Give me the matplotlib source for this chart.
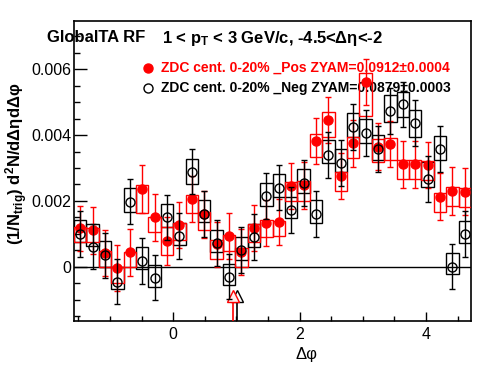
import numpy as np
import matplotlib
matplotlib.use("Agg")
import matplotlib.pyplot as plt

plt.rcParams["font.family"] = ["Liberation Sans", "DejaVu Sans"]
plt.rcParams["mathtext.fontset"] = "custom"
plt.rcParams["mathtext.rm"] = "Liberation Sans:bold"
plt.rcParams["mathtext.it"] = "Liberation Sans:bold"
plt.rcParams["mathtext.bf"] = "Liberation Sans:bold"

# valores en unidades de 1e-3
pos_val = [1.17, 1.11, 0.41, -0.03, 0.44, 2.35, 1.50, 0.78, 1.27, 2.06, 1.59, 0.68, 0.93, 0.44, 1.17, 1.32,
           1.35, 2.45, 2.48, 3.82, 4.46, 2.76, 3.75, 5.62, 3.65, 3.73, 3.11, 3.11, 3.08, 2.13, 2.30, 2.28]
pos_err = [0.68, 0.71, 0.70, 0.70, 0.71, 0.73, 0.71, 0.72, 0.71, 0.70, 0.71, 0.69, 0.71, 0.70, 0.70, 0.70,
           0.70, 0.69, 0.71, 0.71, 0.71, 0.71, 0.71, 0.70, 0.71, 0.70, 0.72, 0.72, 0.70, 0.71, 0.72, 0.71]
pos_sys_lo = [0.74, 0.74, 0.00, -0.48, 0.00, 1.62, 1.06, 0.35, 0.81, 1.64, 1.13, 0.25, 0.49, 0.00, 0.74, 0.89,
              0.93, 2.01, 2.00, 3.34, 3.93, 2.31, 3.29, 4.58, 3.19, 3.25, 2.66, 2.66, 2.63, 1.65, 1.85, 1.83]
pos_sys_hi = [1.22, 1.17, 0.49, 0.00, 0.46, 2.48, 1.52, 1.22, 1.34, 2.17, 1.66, 0.81, 0.96, 0.56, 1.29, 1.42,
              1.40, 2.58, 2.60, 4.02, 4.71, 2.89, 3.95, 5.88, 3.88, 3.90, 3.24, 3.24, 3.22, 2.23, 2.41, 2.38]

neg_val = [0.99, 0.61, 0.35, -0.46, 1.98, 0.17, -0.33, 1.50, 0.93, 2.89, 1.60, 0.71, -0.30, 0.51, 0.89, 2.15,
           2.40, 1.72, 2.55, 1.60, 3.41, 3.14, 4.26, 4.07, 3.57, 4.73, 4.94, 4.36, 2.68, 3.57, 0.00, 0.99]
neg_err = [0.69, 0.69, 0.69, 0.68, 0.69, 0.69, 0.68, 0.68, 0.71, 0.69, 0.70, 0.70, 0.69, 0.70, 0.70, 0.70,
           0.68, 0.69, 0.70, 0.69, 0.70, 0.70, 0.70, 0.70, 0.70, 0.69, 0.69, 0.70, 0.70, 0.70, 0.69, 0.69]
neg_sys_lo = [0.75, 0.63, 0.00, -0.69, 1.67, -0.08, -0.61, 1.22, 0.66, 2.53, 1.37, 0.46, -0.56, 0.20, 0.61, 1.86,
              2.13, 1.47, 2.25, 1.34, 3.14, 2.89, 3.95, 3.75, 3.24, 4.41, 4.56, 3.95, 2.43, 3.24, -0.22, 0.71]
neg_sys_hi = [1.42, 1.30, 0.78, 0.00, 2.38, 0.61, 0.05, 1.90, 1.34, 3.29, 2.03, 1.11, 0.07, 0.89, 1.29, 2.56,
              2.81, 2.13, 2.96, 2.03, 3.85, 3.57, 4.68, 4.48, 4.00, 5.22, 5.30, 4.76, 3.19, 3.97, 0.43, 1.40]

# posicion del minimo ZYAM (flechas)
zyam_x = [0.948, 1.011]
zyam_y = -0.89

nbins = 32
bordes = np.linspace(-np.pi / 2, 3 * np.pi / 2, nbins + 1)
centros = 0.5 * (bordes[:-1] + bordes[1:])
ancho = bordes[1] - bordes[0]

esc = 1e-3
pos_val = np.array(pos_val) * esc
pos_err = np.array(pos_err) * esc
pos_sys_lo = np.array(pos_sys_lo) * esc
pos_sys_hi = np.array(pos_sys_hi) * esc
neg_val = np.array(neg_val) * esc
neg_err = np.array(neg_err) * esc
neg_sys_lo = np.array(neg_sys_lo) * esc
neg_sys_hi = np.array(neg_sys_hi) * esc

fig = plt.figure(figsize=(4.96, 3.74), dpi=100)
ax = fig.add_axes([74 / 496, 53 / 374, 397 / 496, 300 / 374])

ymin, ymax = -0.00165, 0.00747
ax.set_xlim(-np.pi / 2, 3 * np.pi / 2)
ax.set_ylim(ymin, ymax)

ax.axhline(0, color="black", lw=1.0, zorder=1)

# flechas ZYAM
ax.plot([zyam_x[1], zyam_x[1]], [ymin, zyam_y * esc - 0.00018], color="black", lw=1.2, zorder=2)
ax.plot([zyam_x[1]], [zyam_y * esc], marker="^", ms=8, mfc="white", mec="black", mew=1, zorder=2)
ax.plot([zyam_x[0], zyam_x[0]], [ymin, zyam_y * esc - 0.00018], color="red", lw=1.2, zorder=3)
ax.plot([zyam_x[0]], [zyam_y * esc], marker="^", ms=8, mfc="#ffeeee", mec="red", mew=1, zorder=3)

# cajas sistematicas
ax.bar(centros, neg_sys_hi - neg_sys_lo, bottom=neg_sys_lo, width=ancho, fill=False,
       edgecolor="black", linewidth=1.0, zorder=3)
ax.bar(centros, pos_sys_hi - pos_sys_lo, bottom=pos_sys_lo, width=ancho, fill=False,
       edgecolor="red", linewidth=1.0, zorder=4)

# puntos
ax.errorbar(centros, pos_val, yerr=pos_err, fmt="o", ms=6.5, color="red", ecolor="red",
            elinewidth=1.0, capsize=2, capthick=1.0, zorder=5)
ax.errorbar(centros, neg_val, yerr=neg_err, fmt="o", ms=6.5, mfc="none", mec="black", mew=1.0,
            ecolor="black", elinewidth=1.0, capsize=2, capthick=1.0, zorder=6)

# ejes estilo ROOT
ax.set_xticks([0, 2, 4])
ax.set_xticks(np.arange(-1.5, 4.75, 0.5), minor=True)
ax.set_yticks([0, 0.002, 0.004, 0.006])
ax.set_yticklabels(["0", "0.002", "0.004", "0.006"])
ax.set_yticks(np.arange(-0.0015, 0.0075, 0.0005), minor=True)
ax.tick_params(axis="both", which="both", direction="in", top=False, right=False, width=1.0)
ax.tick_params(axis="y", which="major", length=9, pad=2, labelsize=11.5)
ax.tick_params(axis="y", which="minor", length=4.5)
ax.tick_params(axis="x", which="major", length=6.5, pad=4, labelsize=11.5)
ax.tick_params(axis="x", which="minor", length=3.5)
for s in ax.spines.values():
    s.set_linewidth(1.2)

ax.set_xlabel("Δφ", fontsize=12)
ax.xaxis.set_label_coords(0.585, -0.085)
fig.text(17 / 496, 1 - 164 / 374, r"(1/N$_{\rm trig}$) d$^{\rm 2}$N/dΔηdΔφ", fontsize=12,
         fontweight="bold", rotation=90, ha="center", va="center")

# titulos
fig.text(47 / 496, 1 - 42 / 374, "GlobalTA RF", fontsize=12, fontweight="bold")
fig.text(162 / 496, 1 - 43 / 374, r"1 < p$_{\rm T}$ < 3 GeV/c, -4.5<Δη<-2", fontsize=12, fontweight="bold")

# leyenda
ax.plot([0.186], [0.843], "o", ms=6.5, color="red", transform=ax.transAxes, clip_on=False)
ax.text(0.219, 0.843, "ZDC cent. 0-20% _Pos ZYAM=0.0912±0.0004", color="red", fontsize=10,
        fontweight="bold", va="center", transform=ax.transAxes)
ax.plot([0.186], [0.777], "o", ms=6.5, mfc="white", mec="black", mew=1.0, transform=ax.transAxes,
        clip_on=False)
ax.text(0.219, 0.777, "ZDC cent. 0-20% _Neg ZYAM=0.0879±0.0003", color="black", fontsize=10,
        fontweight="bold", va="center", transform=ax.transAxes)

fig.savefig("out.png", dpi=100)
